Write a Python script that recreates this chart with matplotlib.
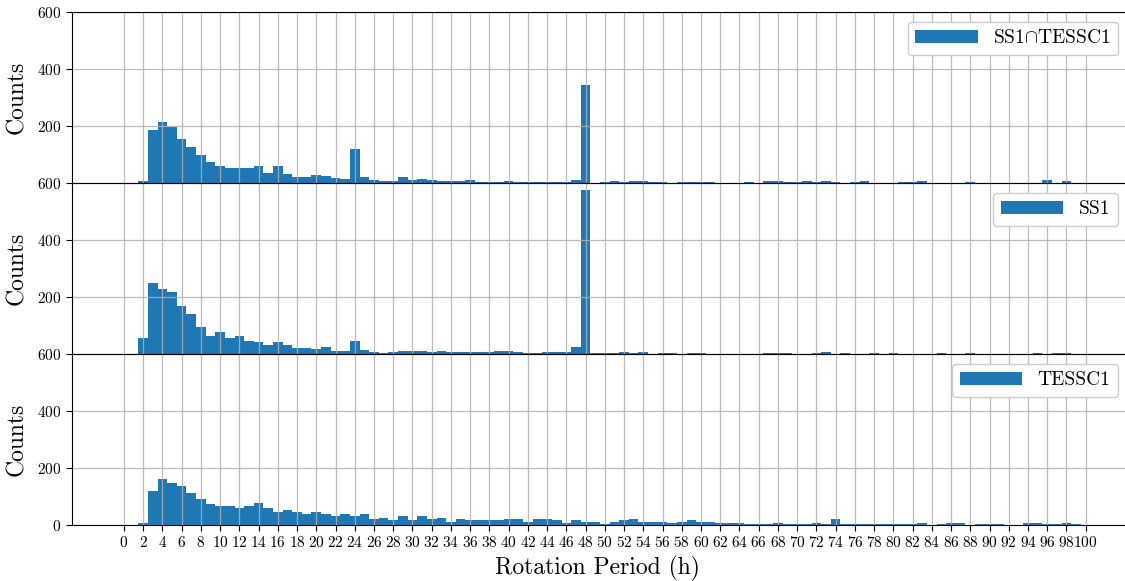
import numpy as np
import matplotlib
matplotlib.use('Agg')
import matplotlib.pyplot as plt

plt.rcParams['font.family'] = 'serif'
plt.rcParams['font.serif'] = ['cmr10']
plt.rcParams['mathtext.fontset'] = 'cm'
plt.rcParams['axes.formatter.use_mathtext'] = True

# rotation period bins (h), one bin per hour centred on the integer
periods = np.arange(2, 100)

# SS1 ∩ TESSC1
counts_both = [
    8, 185, 213, 195, 156, 128, 100, 75, 61, 51,
    54, 51, 58, 36, 58, 33, 22, 22, 29, 26,
    19, 15, 121, 22, 12, 8, 8, 22, 12, 15,
    12, 8, 8, 6, 10, 5, 2, 5, 8, 5,
    2, 5, 2, 5, 2, 12, 345, 1, 4, 8,
    4, 8, 8, 5, 5, 1, 4, 4, 4, 4,
    0, 0, 1, 4, 0, 8, 8, 5, 5, 8,
    4, 8, 4, 1, 4, 8, 0, 0, 0, 4,
    4, 8, 0, 0, 0, 0, 4, 0, 0, 0,
    0, 0, 0, 0, 12, 0, 8, 0,
]

# SS1
counts_ss1 = [
    56, 249, 228, 218, 168, 140, 95, 63, 77, 56,
    63, 46, 42, 32, 42, 32, 21, 21, 18, 25,
    11, 11, 46, 14, 7, 4, 7, 11, 11, 11,
    7, 11, 7, 7, 7, 7, 7, 10, 10, 7,
    4, 2, 7, 7, 7, 25, 575, 2, 2, 2,
    6, 2, 6, 0, 2, 2, 0, 2, 2, 0,
    0, 0, 0, 0, 0, 2, 2, 2, 0, 0,
    2, 6, 0, 2, 0, 0, 2, 0, 2, 0,
    0, 0, 0, 2, 0, 0, 2, 0, 0, 0,
    0, 0, 0, 2, 0, 2, 2, 0,
]

# TESSC1
counts_tess = [
    8, 118, 160, 146, 136, 111, 90, 72, 65, 65,
    61, 65, 76, 58, 47, 54, 44, 40, 44, 40,
    33, 40, 33, 40, 22, 26, 19, 30, 19, 30,
    22, 26, 12, 22, 19, 16, 16, 16, 20, 20,
    11, 20, 20, 16, 8, 16, 11, 11, 4, 11,
    16, 20, 11, 11, 11, 8, 11, 16, 11, 11,
    8, 8, 8, 4, 4, 4, 8, 4, 4, 4,
    8, 4, 20, 4, 4, 4, 4, 4, 4, 4,
    4, 8, 0, 4, 8, 8, 0, 4, 4, 4,
    0, 0, 8, 8, 4, 4, 8, 4,
]

labels = ['SS1$\\cap$TESSC1', 'SS1', 'TESSC1']
xticks = np.arange(0, 101, 2)
yticks = [0, 200, 400, 600]

W, H = 1125, 581
fig = plt.figure(figsize=(W / 100, H / 100), dpi=100)

left, right = 72, 1128
tops = [12, 183, 354]
panel_h = 171

axes = []
for i, (counts, label) in enumerate(zip([counts_both, counts_ss1, counts_tess], labels)):
    top = tops[i]
    ax = fig.add_axes([left / W, 1 - (top + panel_h) / H, (right - left) / W, panel_h / H])
    ax.bar(periods, counts, width=1.0, color='tab:blue', label=label, zorder=1)
    ax.set_xlim(-5.4, 104.4)
    ax.set_ylim(0, 600)
    ax.set_xticks(xticks)
    if i < 2:
        ax.set_yticks(yticks[1:])
        ax.tick_params(axis='x', bottom=False, labelbottom=False)
    else:
        ax.set_yticks(yticks)
    ax.tick_params(axis='both', labelsize=11, direction='out', length=4)
    # grid over the bars but under the black frame
    ax.set_axisbelow('line')
    ax.grid(True, color='#b0b0b0', linewidth=0.9, alpha=0.85)
    for sp in ax.spines.values():
        sp.set_zorder(3)
    ax.set_ylabel('Counts', fontsize=17)
    ax.yaxis.set_label_coords(-0.042, 0.5)
    ax.legend(loc='upper right', fontsize=14, handlelength=3.2,
              edgecolor='#cccccc', framealpha=1.0)
    axes.append(ax)

axes[-1].set_xlabel('Rotation Period (h)', fontsize=17)
axes[-1].xaxis.set_label_coords(0.498, -0.18)

fig.savefig('out.png', dpi=100)
